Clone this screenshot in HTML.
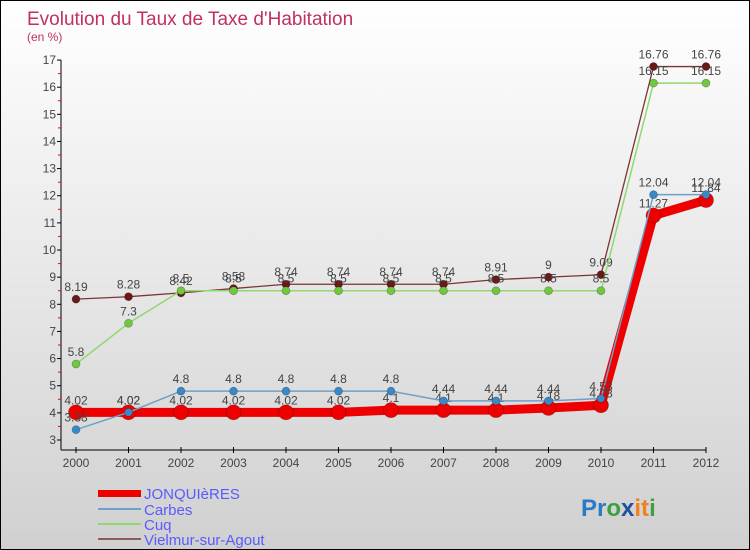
<!DOCTYPE html>
<html><head><meta charset="utf-8"><style>
body{margin:0}
#c{position:relative;width:748px;height:548px;border:1px solid #000;background:linear-gradient(#fff,#d0d0d0);font-family:"Liberation Sans",sans-serif;overflow:hidden}
</style></head><body>
<div id="c">
<svg id="s" width="748" height="548" xmlns="http://www.w3.org/2000/svg">
<text x="26" y="24" font-size="19" fill="#c03060">Evolution du Taux de Taxe d'Habitation</text>
<text x="26" y="40" font-size="12" fill="#c03060">(en %)</text>
<g id="ax"></g><g id="marks"></g>
<g font-size="15" fill="#5a5aff">
<rect x="97" y="489" width="43" height="7" fill="#ee0000"/>
<text x="143" y="498">JONQUIèRES</text>
<rect x="97" y="507" width="43" height="2" fill="#6fa0c8"/>
<text x="143" y="514">Carbes</text>
<rect x="97" y="522" width="43" height="2" fill="#90d870"/>
<text x="143" y="529">Cuq</text>
<rect x="97" y="537" width="43" height="2" fill="#8b5a5a"/>
<text x="143" y="544">Vielmur-sur-Agout</text>
</g>
<text x="580" y="515" font-size="24" font-weight="bold"><tspan fill="#2a7ac8">Pr</tspan><tspan fill="#3aa040">o</tspan><tspan fill="#2050a0">x</tspan><tspan fill="#f08020">it</tspan><tspan fill="#40a040">i</tspan></text>
</svg></div>
<script>
const years=[2000,2001,2002,2003,2004,2005,2006,2007,2008,2009,2010,2011,2012];
const jonq=[4.02,4.02,4.02,4.02,4.02,4.02,4.1,4.1,4.1,4.18,4.28,11.27,11.84];
const carbes=[3.38,4.02,4.8,4.8,4.8,4.8,4.8,4.44,4.44,4.44,4.53,12.04,12.04];
const cuq=[5.8,7.3,8.5,8.5,8.5,8.5,8.5,8.5,8.5,8.5,8.5,16.15,16.15];
const vielmur=[8.19,8.28,8.42,8.58,8.74,8.74,8.74,8.74,8.91,9,9.09,16.76,16.76];
const yTicks=[3,4,5,6,7,8,9,10,11,12,13,14,15,16,17];
const NS="http://www.w3.org/2000/svg";
const X=i=>75+i*52.5, Y=v=>439-(v-3)*27.14;
function mk(t,a,p){const e=document.createElementNS(NS,t);for(const k in a)e.setAttribute(k,a[k]);p.appendChild(e);return e;}
const ax=document.getElementById('ax'),mg=document.getElementById('marks');
let l=mk('line',{x1:60,y1:Y(17),x2:60,y2:449,stroke:'#000'},ax);


l=mk('line',{x1:60,y1:449,x2:X(12),y2:449,stroke:'#000'},ax);


yTicks.forEach(v=>{
 mk('line',{x1:56,x2:60,y1:Y(v),y2:Y(v),stroke:'#000'},ax);
 if(v<17)mk('line',{x1:57,x2:60,y1:Y(v+0.5),y2:Y(v+0.5),stroke:'#f00'},ax);
 const t=mk('text',{x:55,y:Y(v)+4,'text-anchor':'end','font-size':12,fill:'#444'},ax);t.textContent=v;
 
 
});
years.forEach((y,i)=>{
 mk('line',{x1:X(i),x2:X(i),y1:446,y2:452,stroke:'#000'},ax);
 const t=mk('text',{x:X(i),y:466,'text-anchor':'middle','font-size':12,fill:'#444'},ax);t.textContent=y;
 
 
});
function series(d,name,col,w,r,stroke){
 const g=mk('g',{},mg);
 
 
 const p=mk('polyline',{points:d.map((v,i)=>X(i)+','+Y(v)).join(' '),fill:'none',stroke:col,'stroke-width':w},g);
 
 
 d.forEach((v,i)=>{
  const c=mk('circle',{cx:X(i),cy:Y(v),r:r,fill:stroke,stroke:'rgba(0,0,0,0.3)','stroke-width':0.7},g);
  
  
  const t=mk('text',{x:X(i),y:Y(v)-8,'text-anchor':'middle','font-size':12,fill:'#444'},g);t.textContent=v;
  
  
 });
}
series(vielmur,'vielmur','#7a3535',1.3,4,'#6a1818');
series(cuq,'cuq','#90d870',1.5,4,'#70c840');
series(jonq,'jonquieres','#ee0000',9,7.5,'#ee0000');
series(carbes,'carbes','#6fa0c8',1.5,4,'#3a88c8');
</script>
</body></html>
